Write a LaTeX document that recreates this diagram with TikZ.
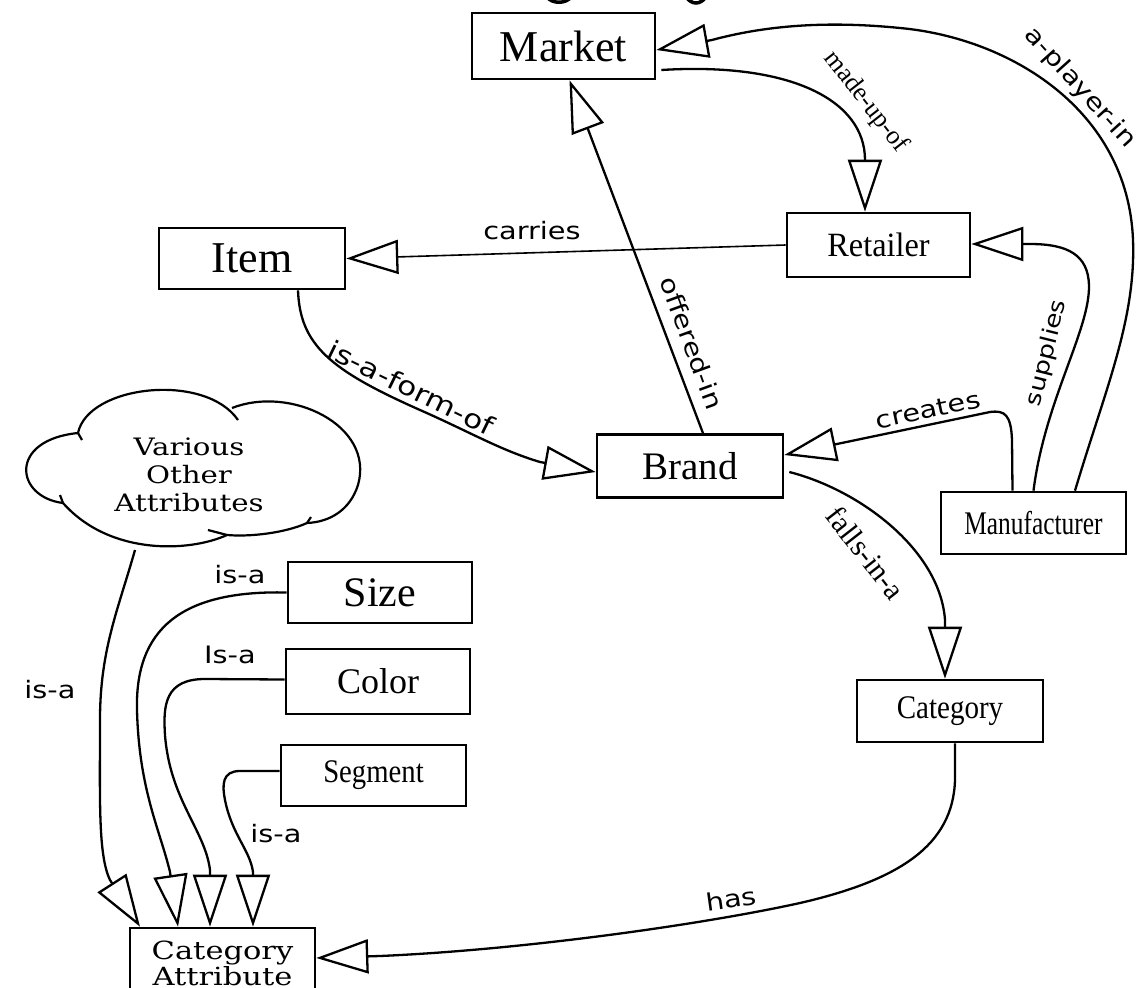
\documentclass[tikz,border=0pt]{standalone}
\usepackage{fontspec}
\usepackage{graphicx}
\setmainfont{Liberation Serif}
\newfontfamily\lblfont[FakeStretch=1.2]{DejaVu Sans}
\newfontfamily\wideserif[FakeStretch=1.22]{DejaVu Serif}
\usetikzlibrary{arrows.meta,calc}
\begin{document}
\begin{tikzpicture}[x=1pt,y=-1pt,
  ent/.style={draw, line width=2.6pt, inner sep=0pt},
  rel/.style={line width=2.3pt, -{Triangle[open, length=52pt, width=34pt]}},
  lbl/.style={inner sep=0pt, font=\lblfont\fontsize{24}{28}\selectfont},
  slbl/.style={inner sep=0pt, font=\fontsize{26}{30}\selectfont},
  cloudline/.style={line width=2.2pt}
]
\fill[white] (0,0) rectangle (1144,988);
\useasboundingbox (0,0) rectangle (1144,988);

% fragments at the top edge
\draw[line width=3.5pt] (547,-3) .. controls (552,4) and (566,4) .. (571,-3);
\draw[line width=3.5pt] (686,-3) .. controls (692,5) and (700,5) .. (706,-3);

% nodes
\node[ent, minimum width=183pt, minimum height=66pt, font=\fontsize{44}{48}\selectfont] (market) at (563.5,46) {Market};
\node[ent, minimum width=186pt, minimum height=61pt, font=\fontsize{44}{48}\selectfont] (item) at (252,258.5) {Item};
\node[ent, minimum width=183pt, minimum height=64pt, font=\fontsize{34}{38}\selectfont] (retailer) at (878.5,245) {\scalebox{0.95}[1]{Retailer}};
\node[ent, minimum width=186pt, minimum height=63pt, font=\fontsize{39}{43}\selectfont] (brand) at (690,466) {Brand};
\node[ent, minimum width=185pt, minimum height=62pt, font=\fontsize{33}{37}\selectfont] (manuf) at (1033.5,523) {\scalebox{0.77}[1]{Manufacturer}};
\node[ent, minimum width=186pt, minimum height=62pt, font=\fontsize{33}{37}\selectfont] (category) at (950,711) {\scalebox{0.88}[1]{Category}};
\node[ent, minimum width=184pt, minimum height=61pt, font=\fontsize{42}{46}\selectfont] (size) at (380,592.5) {Size};
\node[ent, minimum width=184pt, minimum height=65pt, font=\fontsize{36}{40}\selectfont] (color) at (378,681.5) {Color};
\node[ent, minimum width=185pt, minimum height=61pt, font=\fontsize{33}{37}\selectfont] (segment) at (373.5,775.5) {\scalebox{0.87}[1]{Segment}};
\node[ent, minimum width=185pt, minimum height=70pt, align=center, font=\wideserif\fontsize{25}{26}\selectfont] (catattr) at (222.5,963) {Category\\Attribute};

% cloud
\draw[cloudline] (63,503) .. controls (15,497) and (8,440) .. (78,433)
  .. controls (88,385) and (205,372) .. (238,420);
\draw[cloudline] (232,408) .. controls (290,385) and (375,425) .. (358,485)
  .. controls (350,510) and (330,522) .. (307,523)
  .. controls (285,533) and (250,537) .. (227,535)
  .. controls (190,552) and (110,556) .. (63,503);
\draw[cloudline] (63,503) -- (60,495);
\draw[cloudline] (78,433) -- (82,440);
\draw[cloudline] (307,523) -- (311,517);
\draw[cloudline] (227,535) -- (208,530);
\node[inner sep=0pt, align=center, font=\wideserif\fontsize{24}{28}\selectfont] (cloud) at (189,475) {Various\\Other\\Attributes};
\coordinate (cloudbot) at (135,550);

% connectors
\draw[rel] ([xshift=13pt]brand.north) -- ([xshift=6pt]market.south);
\node[lbl, rotate=-70] (loffered) at (692,343) {offered-in};

\draw[rel] ([xshift=5pt,yshift=-24pt]market.east) .. controls (790,62) and (865,100) .. (865,160) -- ([xshift=-13.5pt]retailer.north);
\node[slbl, rotate=-52] (lmade) at (866,102) {made-up-of};

\draw[rel] ([xshift=41.5pt]manuf.north) .. controls (1105,390) and (1136,320) .. (1133,240)
  .. controls (1128,110) and (1010,38) .. (900,28)
  .. controls (820,20) and (760,27) .. (712,40) -- ([yshift=-4pt]market.east);
\node[lbl, rotate=-48] (lplayer) at (1080,88) {a-player-in};

\draw[rel] (manuf.north) .. controls (1045,400) and (1090,330) .. (1089,285)
  .. controls (1088,255) and (1068,244) .. (1030,244) -- ([yshift=1pt]retailer.east);
\node[lbl, font=\lblfont\fontsize{22}{26}\selectfont, rotate=76] (lsupplies) at (1047,353) {supplies};

\draw[rel] ([xshift=-21pt]manuf.north) -- (1012,440) .. controls (1011,415) and (1005,410) .. (990,412) -- ([yshift=11pt]brand.east);
\node[lbl, rotate=12] (lcreates) at (928,410) {creates};

\draw[rel] ([xshift=5pt,yshift=-6pt]brand.east) .. controls (860,490) and (940,550) .. (945,620) -- ([xshift=-5pt]category.north);
\node[slbl, font=\fontsize{30}{34}\selectfont, rotate=-52] (lfalls) at (866,553) {falls-in-a};

\draw[rel] ([xshift=5pt]category.south) -- (955,780) .. controls (953,845) and (900,880) .. (800,903)
  .. controls (700,925) and (520,950) .. (380,956) -- ([yshift=5pt]catattr.east);
\node[lbl, rotate=8] (lhas) at (731,899) {has};

\draw[rel] ([xshift=46pt]item.south) .. controls (300,345) and (330,370) .. (420,410)
  .. controls (470,432) and (500,450) .. (540,462) -- ([yshift=-6pt]brand.west);
\node[lbl, font=\lblfont\fontsize{26}{30}\selectfont, rotate=-26] (lform) at (411,388) {is-a-form-of};

\draw[line width=1.6pt, -{Triangle[open, length=52pt, width=34pt, line width=2.3pt]}] (retailer.west) -- (item.east);
\node[lbl] (lcarries) at (532,231) {carries};

\draw[rel] (size.west) .. controls (180,590) and (135,630) .. (137,710)
  .. controls (139,790) and (160,830) .. (170,872) -- ([xshift=-44.5pt]catattr.north);
\node[lbl] (lsize) at (240,575) {is-a};

\draw[rel] ([yshift=2pt]color.west) -- (205,679) .. controls (165,679) and (163,705) .. (165,735)
  .. controls (170,800) and (205,830) .. (210,870) -- ([xshift=-12.5pt]catattr.north);
\node[lbl] (lcolor) at (230,655) {Is-a};

\draw[rel] ([yshift=4.5pt]segment.west) -- (240,771) .. controls (222,771) and (222,785) .. (225,800)
  .. controls (232,835) and (250,850) .. (253,872) -- ([xshift=30.5pt]catattr.north);
\node[lbl] (lsegment) at (276,834) {is-a};

\draw[rel] (cloudbot) .. controls (118,610) and (100,650) .. (100,720)
  .. controls (100,800) and (98,855) .. (110,880) -- ([xshift=-82.5pt]catattr.north);
\node[lbl] (lcloud) at (50,690) {is-a};
\end{tikzpicture}
\end{document}
